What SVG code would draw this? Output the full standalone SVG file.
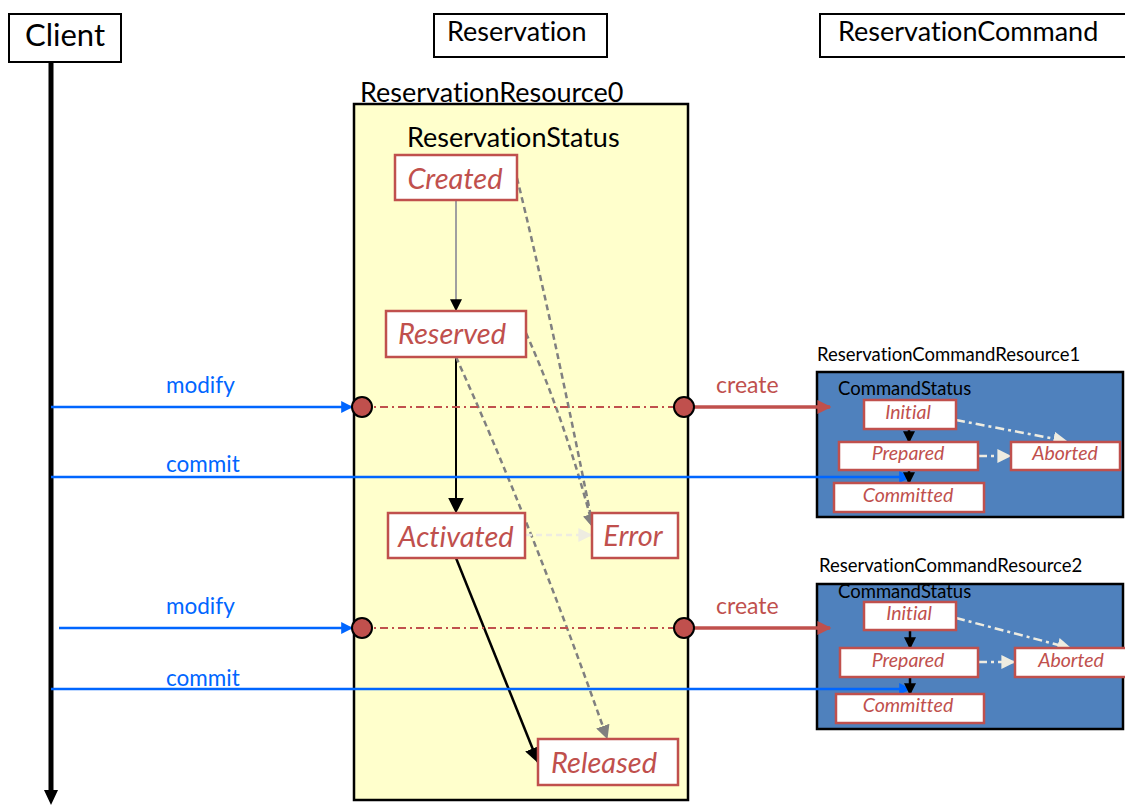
<svg xmlns="http://www.w3.org/2000/svg" width="1125" height="805" viewBox="0 0 1125 805">
  <style>
    text { font-family: Lato, "Open Sans", "Liberation Sans", sans-serif; font-variant-ligatures: none; font-feature-settings: "liga" 0, "dlig" 0; }
    .hdr { fill: #fff; stroke: #000; stroke-width: 2; }
    .hdr-t { font-size: 27px; fill: #000; }
    .lbl { font-size: 27px; fill: #000; }
    .small { font-size: 18.5px; fill: #000; }
    .state { fill: #fff; stroke: #C0504D; stroke-width: 2.5; }
    .state-t { font-size: 29px; font-style: italic; fill: #C0504D; text-anchor: middle; }
    .cstate { fill: #fff; stroke: #C0504D; stroke-width: 2.5; }
    .cstate-t { font-size: 19.5px; font-style: italic; fill: #C0504D; text-anchor: middle; }
    .msg { stroke: #0066FF; stroke-width: 2.5; fill: none; }
    .msg-t { font-size: 22.5px; fill: #0066FF; }
    .create { stroke: #C0504D; stroke-width: 3.5; fill: none; }
    .create-t { font-size: 23px; fill: #C0504D; }
    .port { fill: #C0504D; stroke: #000; stroke-width: 2; }
    .link { stroke: #C0504D; stroke-width: 2; stroke-dasharray: 8 4 2 4; fill: none; }
    .err { stroke: #808080; stroke-width: 2.5; stroke-dasharray: 6 4; fill: none; }
    .cmd { fill: #4F81BD; stroke: #000; stroke-width: 2.5; }
    .abort { stroke: #EEECE1; stroke-width: 2.5; stroke-dasharray: 9 4 3 4; fill: none; }
  </style>
  <defs>
    <marker id="ah-black" viewBox="0 0 10 10" refX="9" refY="5" markerWidth="12" markerHeight="12" markerUnits="userSpaceOnUse" orient="auto">
      <path d="M0,0 L10,5 L0,10 z" fill="#000"/>
    </marker>
    <marker id="ah-black-lg" viewBox="0 0 10 10" refX="9" refY="5" markerWidth="16" markerHeight="16" markerUnits="userSpaceOnUse" orient="auto">
      <path d="M0,0 L10,5 L0,10 z" fill="#000"/>
    </marker>
    <marker id="ah-gray" viewBox="0 0 10 10" refX="9" refY="5" markerWidth="14" markerHeight="14" markerUnits="userSpaceOnUse" orient="auto">
      <path d="M0,0 L10,5 L0,10 z" fill="#808080"/>
    </marker>
    <marker id="ah-light" viewBox="0 0 10 10" refX="9" refY="5" markerWidth="14" markerHeight="14" markerUnits="userSpaceOnUse" orient="auto">
      <path d="M0,0 L10,5 L0,10 z" fill="#EEECE1"/>
    </marker>
    <marker id="ah-blue" viewBox="0 0 10 10" refX="9" refY="5" markerWidth="12" markerHeight="12" markerUnits="userSpaceOnUse" orient="auto">
      <path d="M0,0 L10,5 L0,10 z" fill="#0066FF"/>
    </marker>
    <marker id="ah-red" viewBox="0 0 10 10" refX="9" refY="5" markerWidth="14" markerHeight="14" markerUnits="userSpaceOnUse" orient="auto">
      <path d="M0,0 L10,5 L0,10 z" fill="#C0504D"/>
    </marker>
  </defs>

  <rect width="1125" height="805" fill="#fff"/>

  <!-- lifeline headers -->
  <g id="client">
    <rect class="hdr" x="9" y="14" width="112" height="48"/>
    <text x="65" y="46" font-size="31" text-anchor="middle">Client</text>
    <line x1="51" y1="62" x2="51" y2="792" stroke="#000" stroke-width="5"/>
    <path d="M44,790 L58,790 L51,805 z" fill="#000"/>
  </g>
  <g id="reservation">
    <rect class="hdr" x="434" y="14" width="173" height="43"/>
    <text class="hdr-t" x="447" y="41">Reservation</text>
  </g>
  <g id="reservation-command">
    <rect class="hdr" x="820" y="14" width="310" height="43"/>
    <text class="hdr-t" x="838" y="41">ReservationCommand</text>
  </g>

  <!-- reservation resource with its status machine -->
  <g id="reservation-resource0">
    <text class="lbl" x="360" y="102">ReservationResource0</text>
    <rect x="354" y="104" width="334" height="696" fill="#FFFFCC" stroke="#000" stroke-width="2.5"/>
    <text class="lbl" x="407" y="147">ReservationStatus</text>
  </g>

  <!-- command resources -->
  <g id="command-resource1">
    <text class="small" x="817" y="361">ReservationCommandResource1</text>
    <rect class="cmd" x="817" y="372" width="306" height="145"/>
    <text class="small" x="838" y="395">CommandStatus</text>
  </g>
  <g id="command-resource2">
    <text class="small" x="819" y="572">ReservationCommandResource2</text>
    <rect class="cmd" x="817" y="584" width="306" height="145"/>
    <text class="small" x="838" y="598">CommandStatus</text>
  </g>

  <!-- connectors -->
  <g id="connectors">
    <!-- reservation status transitions -->
    <line x1="456" y1="200" x2="456" y2="310" stroke="#A0A0A0" stroke-width="2" marker-end="url(#ah-black)"/>
    <line x1="456" y1="357" x2="456" y2="512" stroke="#000" stroke-width="2" marker-end="url(#ah-black-lg)"/>
    <line x1="456" y1="558" x2="538" y2="762" stroke="#000" stroke-width="2.5" marker-end="url(#ah-black-lg)"/>
    <path class="err" d="M517,178 Q552,320 593,527" marker-end="url(#ah-gray)"/>
    <path class="err" d="M526,333 Q565,420 593,527" marker-end="url(#ah-gray)"/>
    <path class="err" d="M456,357 Q530,520 607,738" marker-end="url(#ah-gray)"/>
    <line x1="526" y1="535" x2="591" y2="535" stroke="#EEECE1" stroke-width="2.5" stroke-dasharray="6 4" marker-end="url(#ah-light)"/>

    <!-- resource links -->
    <line class="link" x1="362" y1="407" x2="684" y2="407"/>
    <line class="link" x1="362" y1="628" x2="684" y2="628"/>

    <!-- client messages -->
    <line class="msg" x1="51" y1="407" x2="352" y2="407" marker-end="url(#ah-blue)"/>
    <line class="msg" x1="51" y1="477" x2="910" y2="477" marker-end="url(#ah-blue)"/>
    <line class="msg" x1="59" y1="628" x2="352" y2="628" marker-end="url(#ah-blue)"/>
    <line class="msg" x1="51" y1="689" x2="910" y2="689" marker-end="url(#ah-blue)"/>
    <text class="msg-t" x="166" y="393">modify</text>
    <text class="msg-t" x="166" y="472">commit</text>
    <text class="msg-t" x="166" y="614">modify</text>
    <text class="msg-t" x="166" y="686">commit</text>

    <!-- create calls -->
    <line class="create" x1="684" y1="407" x2="830" y2="407" marker-end="url(#ah-red)"/>
    <line class="create" x1="684" y1="628" x2="830" y2="628" marker-end="url(#ah-red)"/>
    <text class="create-t" x="716" y="393">create</text>
    <text class="create-t" x="716" y="614">create</text>

    <!-- command status transitions, resource 1 -->
    <line x1="909" y1="429" x2="909" y2="442" stroke="#000" stroke-width="2.5" marker-end="url(#ah-black)"/>
    <line x1="909" y1="470" x2="909" y2="483" stroke="#000" stroke-width="2.5" marker-end="url(#ah-black)"/>
    <line class="abort" x1="956" y1="420" x2="1066" y2="441" marker-end="url(#ah-light)"/>
    <line class="abort" x1="978" y1="456" x2="1010" y2="456" marker-end="url(#ah-light)"/>

    <!-- command status transitions, resource 2 -->
    <line x1="910" y1="630" x2="910" y2="648" stroke="#000" stroke-width="2.5" marker-end="url(#ah-black)"/>
    <line x1="910" y1="677" x2="910" y2="694" stroke="#000" stroke-width="2.5" marker-end="url(#ah-black)"/>
    <line class="abort" x1="956" y1="618" x2="1070" y2="648" marker-end="url(#ah-light)"/>
    <line class="abort" x1="978" y1="662" x2="1014" y2="662" marker-end="url(#ah-light)"/>
  </g>

  <!-- ports -->
  <g id="ports">
    <circle class="port" cx="362" cy="407" r="10"/>
    <circle class="port" cx="684" cy="407" r="10"/>
    <circle class="port" cx="362" cy="628" r="10"/>
    <circle class="port" cx="684" cy="628" r="10"/>
  </g>

  <!-- reservation states -->
  <g id="state-created"><rect class="state" x="395" y="155" width="122" height="45"/><text class="state-t" x="455" y="189">Created</text></g>
  <g id="state-reserved"><rect class="state" x="386" y="311" width="140" height="46"/><text class="state-t" x="452" y="344">Reserved</text></g>
  <g id="state-activated"><rect class="state" x="388" y="513" width="137" height="45"/><text class="state-t" x="456" y="547">Activated</text></g>
  <g id="state-error"><rect class="state" x="592" y="513" width="86" height="45"/><text class="state-t" x="633" y="546">Error</text></g>
  <g id="state-released"><rect class="state" x="538" y="739" width="140" height="46"/><text class="state-t" x="604" y="773">Released</text></g>

  <!-- command states, resource 1 -->
  <g id="c1-initial"><rect class="cstate" x="864" y="400" width="92" height="29"/><text class="cstate-t" x="908" y="419">Initial</text></g>
  <g id="c1-prepared"><rect class="cstate" x="839" y="442" width="139" height="28"/><text class="cstate-t" x="908" y="460">Prepared</text></g>
  <g id="c1-aborted"><rect class="cstate" x="1011" y="442" width="109" height="28"/><text class="cstate-t" x="1065" y="460">Aborted</text></g>
  <g id="c1-committed"><rect class="cstate" x="834" y="483" width="150" height="29"/><text class="cstate-t" x="908" y="502">Committed</text></g>

  <!-- command states, resource 2 -->
  <g id="c2-initial"><rect class="cstate" x="864" y="602" width="92" height="28"/><text class="cstate-t" x="909" y="620">Initial</text></g>
  <g id="c2-prepared"><rect class="cstate" x="840" y="648" width="138" height="29"/><text class="cstate-t" x="908" y="667">Prepared</text></g>
  <g id="c2-aborted"><rect class="cstate" x="1015" y="648" width="112" height="29"/><text class="cstate-t" x="1071" y="667">Aborted</text></g>
  <g id="c2-committed"><rect class="cstate" x="836" y="694" width="148" height="29"/><text class="cstate-t" x="908" y="712">Committed</text></g>
</svg>
